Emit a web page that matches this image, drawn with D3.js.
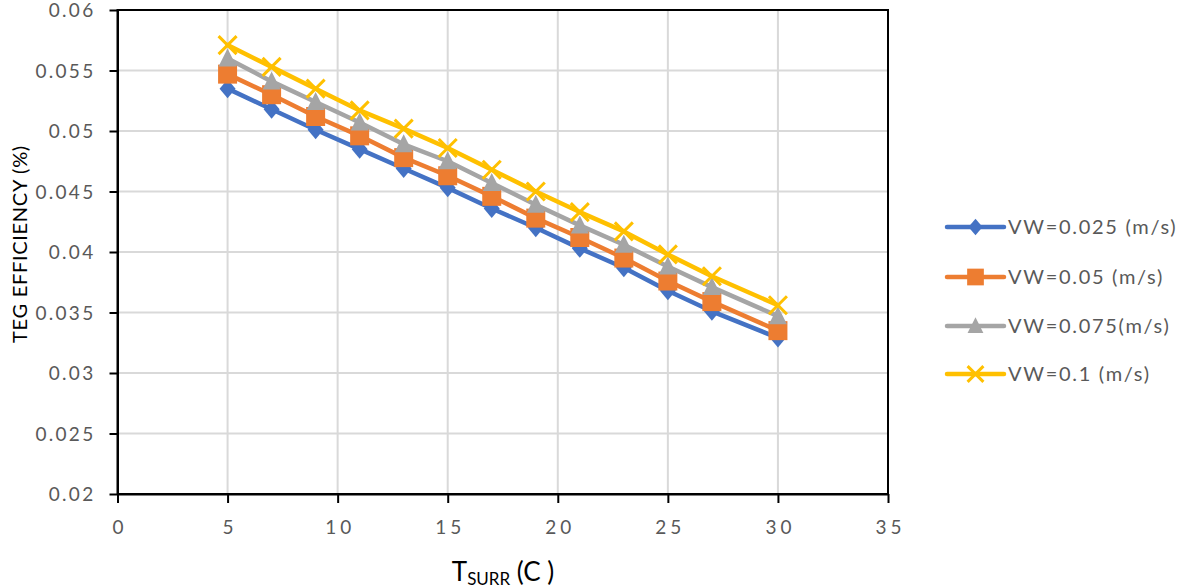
<!DOCTYPE html>
<html>
<head>
<meta charset="utf-8">
<script src="https://cdn.jsdelivr.net/npm/d3@7"></script>
<style>
  html, body { margin: 0; padding: 0; background: #fff; }
  svg { display: block; font-family: Lato, "Open Sans", sans-serif; }
</style>
</head>
<body>
<svg id="chart" width="1181" height="588"></svg>
<script>
const tSurr = [5, 7, 9, 11, 13, 15, 17, 19, 21, 23, 25, 27, 30];
const seriesNames = ["VW=0.025 (m/s)", "VW=0.05 (m/s)", "VW=0.075(m/s)", "VW=0.1 (m/s)"];
const vw025 = [0.0535, 0.0518, 0.0501, 0.0485, 0.0469, 0.0453, 0.0436, 0.0420, 0.0403, 0.0387, 0.0368, 0.0351, 0.0329];
const vw050 = [0.0547, 0.0530, 0.0512, 0.0496, 0.0478, 0.0463, 0.0446, 0.0428, 0.0412, 0.0395, 0.0376, 0.0359, 0.0335];
const vw075 = [0.0560, 0.0541, 0.0524, 0.0507, 0.0489, 0.0475, 0.0457, 0.0439, 0.0422, 0.0406, 0.0388, 0.0371, 0.0347];
const vw100 = [0.0571, 0.0553, 0.0535, 0.0517, 0.0502, 0.0486, 0.0468, 0.0450, 0.0433, 0.0417, 0.0398, 0.0380, 0.0356];
const xTicks = [0, 5, 10, 15, 20, 25, 30, 35];
const yTicks = [0.02, 0.025, 0.03, 0.035, 0.04, 0.045, 0.05, 0.055, 0.06];
const yTickLabels = ["0.02", "0.025", "0.03", "0.035", "0.04", "0.045", "0.05", "0.055", "0.06"];

const colors = ["#4472C4", "#ED7D31", "#A5A5A5", "#FFC000"];
const markers = ["diamond", "square", "triangle", "cross"];
const allSeries = [vw025, vw050, vw075, vw100];

const svg = d3.select("#chart");
const L = 117.5, R = 888, T = 10, B = 494;
const x = d3.scaleLinear().domain([0, 35]).range([L, R]);
const y = d3.scaleLinear().domain([0.02, 0.06]).range([B, T]);

// gridlines
svg.append("g").selectAll("line").data(xTicks.slice(1, -1)).join("line")
  .attr("x1", d => x(d)).attr("x2", d => x(d)).attr("y1", T).attr("y2", B)
  .attr("stroke", "#D9D9D9").attr("stroke-width", 2);
svg.append("g").selectAll("line").data(yTicks.slice(1, -1)).join("line")
  .attr("y1", d => y(d)).attr("y2", d => y(d)).attr("x1", L).attr("x2", R)
  .attr("stroke", "#D9D9D9").attr("stroke-width", 2);

// frame
svg.append("rect").attr("x", L).attr("y", T).attr("width", R - L).attr("height", B - T)
  .attr("fill", "none").attr("stroke", "#000").attr("stroke-width", 2);

// axes
const yAxis = d3.axisLeft(y).tickValues(yTicks).tickFormat((d, i) => yTickLabels[i]).tickSizeInner(8).tickSizeOuter(0).tickPadding(14);
const gy = svg.append("g").attr("transform", `translate(${L},0)`).call(yAxis);
gy.select(".domain").attr("stroke", "#000").attr("stroke-width", 2);
gy.selectAll(".tick line").attr("stroke", "#000").attr("stroke-width", 2);
gy.selectAll(".tick text").attr("fill", "#595959").attr("dy", "0.36em")
  .style("font-size", "19px").style("letter-spacing", "2.3px").style("font-family", "Lato, sans-serif");

const xAxis = d3.axisBottom(x).tickValues(xTicks).tickFormat(d => String(d)).tickSizeInner(9).tickSizeOuter(0).tickPadding(18);
const gx = svg.append("g").attr("transform", `translate(0,${B})`).call(xAxis);
gx.select(".domain").attr("stroke", "#000").attr("stroke-width", 2);
gx.selectAll(".tick line").attr("stroke", "#000").attr("stroke-width", 2);
gx.selectAll(".tick text").attr("fill", "#595959").attr("dx", "2px")
  .style("font-size", "19px").style("letter-spacing", "4px").style("font-family", "Lato, sans-serif");

function markerPath(type, k) {
  if (type === "diamond") return `M0,${-9.5*k}L${8*k},0L0,${9.5*k}L${-8*k},0Z`;
  if (type === "square") return `M${-9.5*k},${-9.5*k}H${9.5*k}V${9.5*k}H${-9.5*k}Z`;
  if (type === "triangle") return `M0,${-10*k}L${9*k},${8*k}H${-9*k}Z`;
  return `M${-9*k},${-9*k}L${9*k},${9*k}M${-9*k},${9*k}L${9*k},${-9*k}`;
}
function drawMarker(g, type, color, k) {
  const p = g.append("path").attr("d", markerPath(type, k));
  if (type === "cross") p.attr("fill", "none").attr("stroke", color).attr("stroke-width", 3);
  else p.attr("fill", color);
}

const line = d3.line().x((d, i) => x(tSurr[i])).y(d => y(d));
allSeries.forEach((vals, s) => {
  const g = svg.append("g");
  g.append("path").datum(vals).attr("d", line).attr("fill", "none")
    .attr("stroke", colors[s]).attr("stroke-width", 4.5).attr("stroke-linejoin", "round").attr("stroke-linecap", "round");
  vals.forEach((v, i) => {
    const mg = g.append("g").attr("transform", `translate(${x(tSurr[i])},${y(v)})`);
    drawMarker(mg, markers[s], colors[s], 1);
  });
});

// legend
const legY = [227, 277, 326, 374];
seriesNames.forEach((name, s) => {
  const g = svg.append("g").attr("transform", `translate(0,${legY[s]})`);
  g.append("line").attr("x1", 947).attr("x2", 1004).attr("y1", 0).attr("y2", 0)
    .attr("stroke", colors[s]).attr("stroke-width", 4.5).attr("stroke-linecap", "round");
  const mg = g.append("g").attr("transform", "translate(975.5,0)");
  drawMarker(mg, markers[s], colors[s], 0.88);
  g.append("text").attr("x", 1008).attr("y", 0).attr("dy", "0.36em")
    .attr("fill", "#595959").style("font-size", "20px").style("letter-spacing", "1.7px").text(name);
});

// axis titles
svg.append("text").attr("transform", "translate(20,244) rotate(-90)")
  .attr("text-anchor", "middle").attr("dy", "0.35em").attr("fill", "#000")
  .style("font-size", "20px").style("letter-spacing", "0.7px").text("TEG EFFICIENCY (%)");

const xt = svg.append("text").attr("x", 503).attr("y", 581).attr("text-anchor", "middle").attr("fill", "#000").style("font-size", "26px");
xt.append("tspan").text("T");
xt.append("tspan").attr("dy", 4).style("font-size", "17px").text("SURR");
xt.append("tspan").attr("dy", -4).text(" (C )");
</script>
</body>
</html>
